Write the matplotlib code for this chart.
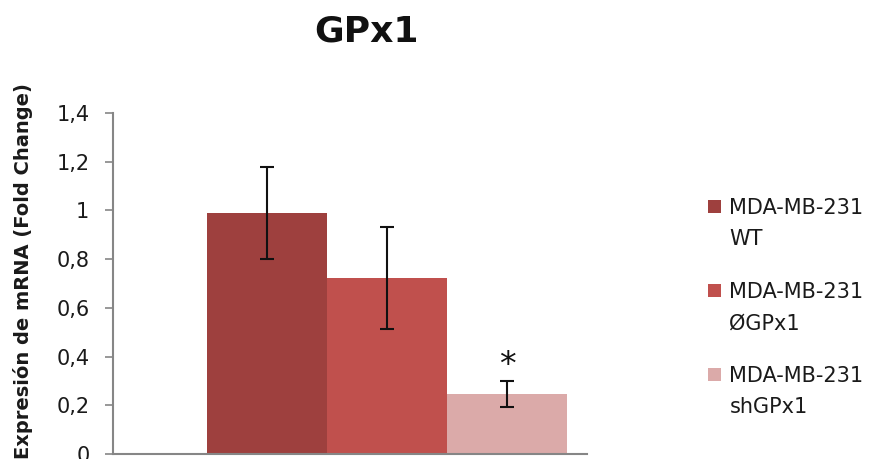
import matplotlib.pyplot as plt
from matplotlib.patches import Patch, Rectangle
from matplotlib.legend_handler import HandlerPatch
from matplotlib.ticker import FuncFormatter

plt.rcParams['font.family'] = ['DejaVu Sans']

groups = ["MDA-MB-231\nWT", "MDA-MB-231\nØGPx1", "MDA-MB-231\nshGPx1"]
values = [0.99, 0.724, 0.248]
errors = [0.19, 0.21, 0.053]
colors = ["#9E403E", "#C0504D", "#DBAAA9"]
sig_marks = ["", "", "*"]

fig = plt.figure(figsize=(8.77, 4.59), dpi=100)
ax = fig.add_axes([113 / 877, 5 / 459, 474 / 877, 341 / 459])

xs = list(range(len(values)))
ax.bar(xs, values, width=1.0, color=colors, edgecolor="none",
       yerr=errors, capsize=4.7,
       error_kw=dict(ecolor="#111111", elinewidth=1.5, capthick=1.5))

for x, v, e, m in zip(xs, values, errors, sig_marks):
    if m:
        ax.text(x, v + e - 0.005, m, ha="center", va="bottom",
                fontsize=24, color="#111111")

ax.set_xlim(-1.28, 2.667)
ax.set_ylim(0, 1.4)
ax.set_yticks([0, 0.2, 0.4, 0.6, 0.8, 1.0, 1.2, 1.4])
ax.yaxis.set_major_formatter(FuncFormatter(
    lambda v, p: ("%g" % round(v, 1)).replace(".", ",")))
ax.set_xticks([])
ax.tick_params(axis="y", length=6, width=1.2, color="#868686",
               labelsize=15, labelcolor="#1a1a1a", pad=11)
for s in ["top", "right"]:
    ax.spines[s].set_visible(False)
for s in ["left", "bottom"]:
    ax.spines[s].set_color("#868686")
    ax.spines[s].set_linewidth(1.5)

fig.text(23 / 877, 1 - 271 / 459, "Expresión de mRNA (Fold Change)",
         rotation=90, ha="center", va="center", fontsize=14,
         fontweight="bold", color="#1a1a1a")
fig.text(366 / 877, 1 - 32 / 459, "GPx1", ha="center", va="center",
         fontsize=26, fontweight="bold", color="#111111")


def top_square(legend, orig_handle, xdescent, ydescent, width, height, fontsize):
    s = 9.4
    return Rectangle((-xdescent, -ydescent + 13.5), s, s)


handles = [Patch(facecolor=c, edgecolor="none") for c in colors]
leg = fig.legend(handles, groups, loc="upper left",
                 bbox_to_anchor=(708 / 877, 1 - 198 / 459),
                 frameon=False, fontsize=15, borderpad=0, borderaxespad=0,
                 handlelength=0.63, handletextpad=0.4, labelspacing=1.6,
                 handler_map={Patch: HandlerPatch(patch_func=top_square)})
for t in leg.get_texts():
    t.set_linespacing(1.68)
    t.set_color("#1a1a1a")

fig.savefig("out.png", dpi=100)
